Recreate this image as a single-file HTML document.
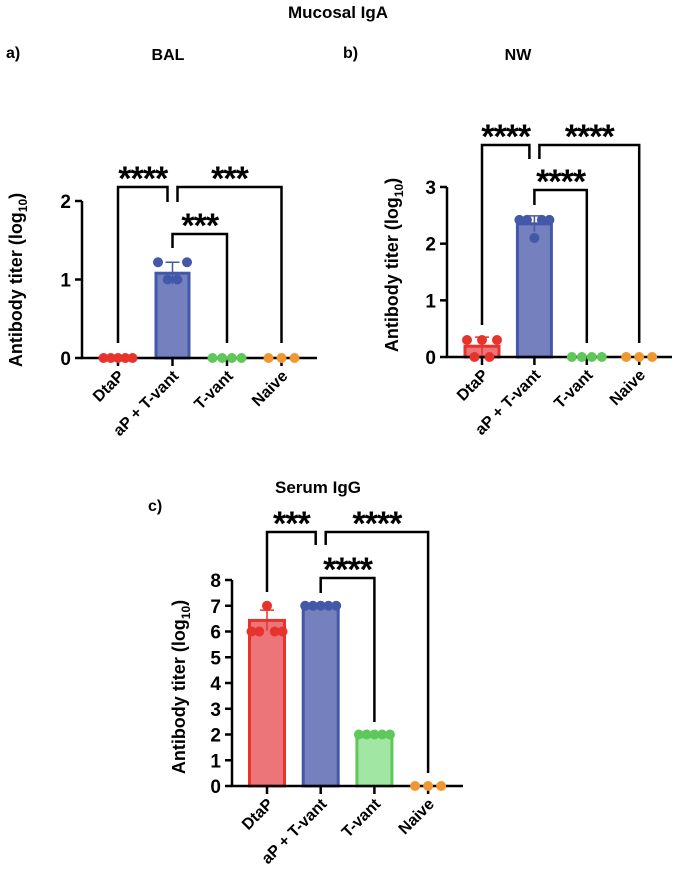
<!DOCTYPE html>
<html><head><meta charset="utf-8"><style>
body{margin:0;background:#fff;}
svg{display:block;font-family:"Liberation Sans",Arial,sans-serif;font-weight:bold;}
</style></head><body>
<svg id="fig" width="676" height="881" viewBox="0 0 676 881">
<text x="338" y="18" text-anchor="middle" font-size="17">Mucosal IgA</text>
<text x="6" y="58" font-size="16">a)</text>
<text x="168" y="60" text-anchor="middle" font-size="16">BAL</text>
<text x="343" y="58" font-size="16">b)</text>
<text x="518" y="60" text-anchor="middle" font-size="16">NW</text>
<text x="318" y="493" text-anchor="middle" font-size="17">Serum IgG</text>
<text x="148" y="511" font-size="16">c)</text>
</svg>
<script>
const categories = ["DtaP","aP + T-vant","T-vant","Naive"];
const colors = ["#e8322c","#4358a8","#5ec85a","#f0972f"];
const fills = ["#ec7579","#7580bf","#a2e6a4","#f0972f"];
// Panel a (BAL)
const balMeans = [0, 1.08, 0, 0];
const balSD = [0, 0.14, 0, 0];
const balPoints = [[0,0,0,0,0],[1.22,1.0,1.0,1.22],[0,0,0,0],[0,0,0]];
const balTicks = [0,1,2];
// Panel b (NW)
const nwMeans = [0.19, 2.35, 0, 0];
const nwSD = [0.16, 0.14, 0, 0];
const nwPoints = [[0.3,0,0.3,0,0.3],[2.42,2.42,2.1,2.42,2.42],[0,0,0,0],[0,0,0]];
const nwTicks = [0,1,2,3];
// Panel c (Serum IgG)
const serMeans = [6.43, 7.0, 2.0, 0];
const serSD = [0.4, 0, 0, 0];
const serPoints = [[6,6,7,6,6],[7,7,7,7,7],[2,2,2,2,2],[0,0,0]];
const serTicks = [0,1,2,3,4,5,6,7,8];

const NS="http://www.w3.org/2000/svg";
const svg=document.getElementById('fig');
function mk(tag,attrs,parent){const e=document.createElementNS(NS,tag);for(const k in attrs)e.setAttribute(k,attrs[k]);(parent||svg).appendChild(e);return e;}

function panel(p){
  const g=mk('g',{});
  
  
  const ymax=p.ticks[p.ticks.length-1];
  const y=v=>p.y0-(v/ymax)*(p.y0-p.ytop);
  const x=i=>p.xs0+i*p.dx;
  p.means.forEach((m,i)=>{
    if(m<=0)return;
    const r=mk('rect',{x:x(i)-p.bw/2,y:y(m),width:p.bw,height:p.y0-y(m),fill:fills[i],stroke:colors[i],'stroke-width':3},g);
    
    
  });
  p.means.forEach((m,i)=>{
    if(p.sd[i]<=0)return;
    const t=y(m+p.sd[i]),b=y(Math.max(0,m-p.sd[i]));
    const e=mk('path',{d:`M${x(i)},${b}V${t}M${x(i)-7},${t}H${x(i)+7}`,stroke:colors[i],'stroke-width':1.5,fill:'none'},g);
    
    
  });
  const ax=mk('path',{d:`M${p.ax},${p.ytop}V${p.y0}H${p.axEnd}`,stroke:'#000','stroke-width':2.5,fill:'none'},g);
  
  
  p.ticks.forEach(t=>{
    mk('line',{x1:p.ax-7,x2:p.ax,y1:y(t),y2:y(t),stroke:'#000','stroke-width':2.5},g);
    const tl=mk('text',{x:p.ax-11,y:y(t)+7,'text-anchor':'end','font-size':19},g);
    tl.textContent=t;
    
    
  });
  categories.forEach((c,i)=>{
    mk('line',{x1:x(i),x2:x(i),y1:p.y0,y2:p.y0+8,stroke:'#000','stroke-width':2.5},g);
    const tl=mk('text',{x:0,y:0,'text-anchor':'end','font-size':16,transform:`translate(${x(i)+7},${p.y0+19}) rotate(-45)`},g);
    tl.textContent=c;
    
    
  });
  p.points.forEach((arr,i)=>{
    const n=arr.length;
    const step=n>1?Math.min(13,(p.bw-4)/(n-1)):0;
    arr.forEach((v,j)=>{
      const cx=x(i)+(j-(n-1)/2)*step;
      const c=mk('circle',{cx:cx,cy:y(v),r:5,fill:colors[i]},g);
      
      
    });
  });
  p.br.forEach(b=>{
    const x1=x(b.a)+(b.sa||0),x2=x(b.b)+(b.sb||0);
    const l=mk('path',{d:`M${x1},${b.ya}V${b.y}H${x2}V${b.yb}`,stroke:'#000','stroke-width':2.5,fill:'none'},g);
    
    
    const s=mk('text',{x:(x1+x2)/2,y:b.y+3,'text-anchor':'middle','font-size':34,'letter-spacing':'-1'},g);
    s.textContent=b.s;
    
    
  });
  const yt=mk('text',{x:0,y:0,'text-anchor':'middle','font-size':18,transform:`translate(${p.ytx},${p.ytc}) rotate(-90)`},g);
  yt.innerHTML='Antibody titer (log<tspan font-size="12" dy="5">10</tspan><tspan dy="-5">)</tspan>';
  
  
}

panel({name:'bal',means:balMeans,sd:balSD,points:balPoints,ticks:balTicks,y0:358,ytop:201,ax:82,axEnd:317,xs0:118,dx:54.5,bw:33,ytx:22,ytc:280,
 br:[{a:0,b:1,sb:-5,y:187,ya:343,yb:202,s:'****'},{a:1,b:3,sa:5,y:187,ya:202,yb:343,s:'***'},{a:1,b:2,y:234,ya:248,yb:343,s:'***'}]});
panel({name:'nw',means:nwMeans,sd:nwSD,points:nwPoints,ticks:nwTicks,y0:357,ytop:187,ax:447,axEnd:672,xs0:482,dx:52.4,bw:34,ytx:398,ytc:265,
 br:[{a:0,b:1,sb:-5,y:145,ya:325,yb:159,s:'****'},{a:1,b:3,sa:5,y:145,ya:159,yb:343,s:'****'},{a:1,b:2,y:190,ya:205,yb:343,s:'****'}]});
panel({name:'serum',means:serMeans,sd:serSD,points:serPoints,ticks:serTicks,y0:786,ytop:580,ax:232,axEnd:463,xs0:267,dx:53.7,bw:35,ytx:185,ytc:687,
 br:[{a:0,b:1,sb:-5,y:532,ya:592,yb:545,s:'***'},{a:1,b:3,sa:5,y:532,ya:545,yb:773,s:'****'},{a:1,b:2,y:578,ya:593,yb:722,s:'****'}]});
</script>
</body></html>
